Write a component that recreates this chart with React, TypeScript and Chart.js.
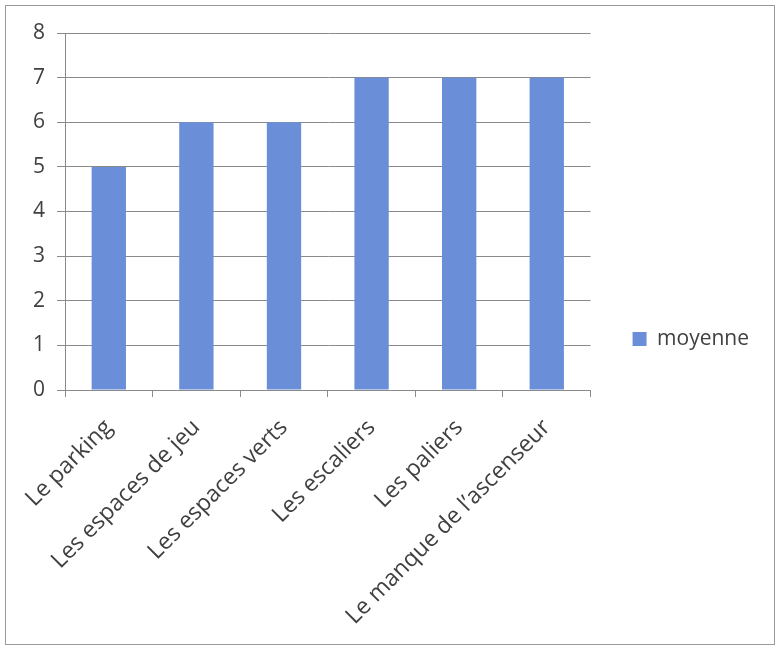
import React, { useEffect, useRef } from "react";
import { Chart, registerables } from "chart.js";

Chart.register(...registerables);

const categories = [
  "Le parking",
  "Les espaces de jeu",
  "Les espaces verts",
  "Les escaliers",
  "Les paliers",
  "Le manque de l\u2019ascenseur",
];
const seriesName = "moyenne";
const moyenne = [5, 6, 6, 7, 7, 7];
const yTicks = [0, 1, 2, 3, 4, 5, 6, 7, 8];

const FONT = "'Open Sans', 'Noto Sans', sans-serif";
const TEXT = "#404040";
const GRID = "#8a8a8a";

export default function App() {
  const ref = useRef<HTMLCanvasElement | null>(null);

  useEffect(() => {
    if (!ref.current) return;
    const chart = new Chart(ref.current, {
      type: "bar",
      data: {
        labels: categories,
        datasets: [
          {
            label: seriesName,
            data: moyenne,
            backgroundColor: "#6a8fd8",
            borderWidth: 0,
            categoryPercentage: 0.8,
            barPercentage: 0.49,
          },
        ],
      },
      options: {
        animation: false,
        responsive: false,
        maintainAspectRatio: false,
        layout: { padding: { top: 33, left: 0, right: 19, bottom: 5 } },
        plugins: {
          legend: {
            position: "right",
            labels: {
              boxWidth: 14,
              boxHeight: 14,
              padding: 42,
              color: TEXT,
              font: { family: FONT, size: 21 },
            },
          },
          tooltip: { enabled: false },
        },
        scales: {
          x: {
            offset: true,
            grid: {
              offset: true,
              drawOnChartArea: false,
              drawTicks: true,
              tickLength: 7,
              color: GRID,
            },
            border: { color: GRID, width: 1 },
            ticks: {
              color: TEXT,
              font: { family: FONT, size: 23 },
              minRotation: 45,
              maxRotation: 45,
              autoSkip: false,
              padding: 17,
            },
            afterFit: (scale: any) => {
              scale.height = 255;
            },
          },
          y: {
            min: 0,
            max: 8,
            afterBuildTicks: (scale: any) => {
              scale.ticks = yTicks.map((v) => ({ value: v }));
            },
            grid: {
              color: GRID,
              lineWidth: 1,
              tickLength: 8,
            },
            border: { color: GRID, width: 1 },
            ticks: {
              color: TEXT,
              font: { family: FONT, size: 21 },
              padding: 12,
            },
            afterFit: (scale: any) => {
              scale.width = 65;
            },
          },
        },
      },
    });
    return () => chart.destroy();
  }, []);

  return (
    <div style={{ position: "absolute", left: 0, top: 0, width: 778, height: 650, background: "#fff" }}>
      <div
        style={{
          position: "absolute",
          left: 5,
          top: 5,
          width: 768,
          height: 638,
          border: "1px solid #9a9a9a",
        }}
      />
      <canvas
        ref={ref}
        width={778}
        height={650}
        style={{ position: "absolute", left: 0, top: 0, width: 778, height: 650 }}
      />
    </div>
  );
}
